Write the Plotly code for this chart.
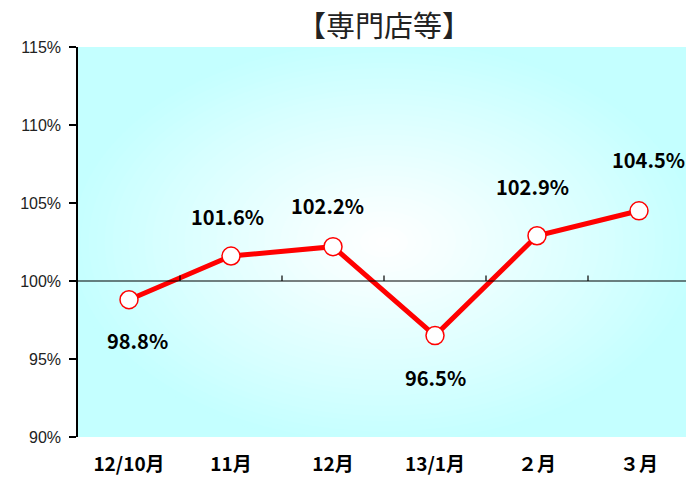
import plotly.graph_objects as go

categories = ["12/10月", "11月", "12月", "13/1月", "２月", "３月"]
values = [98.8, 101.6, 102.2, 96.5, 102.9, 104.5]
value_labels = ["98.8%", "101.6%", "102.2%", "96.5%", "102.9%", "104.5%"]
y_ticks = [90, 95, 100, 105, 110, 115]
y_tick_labels = ["90%", "95%", "100%", "105%", "110%", "115%"]

# label offsets (pixels) relative to points
label_dx = [8, -4, -6, 0, -5, 9]
label_dy = [-41, 40, 41, -42, 49, 51]

W, H = 686, 479
L, R, T, B = 78, 0, 47, 42
px_per_cat = 102
plot_w = W - L - R
xr = [-0.5, -0.5 + plot_w / px_per_cat]
yr = [90, 115]

fig = go.Figure()

# radial-ish background gradient via concentric ellipses
edge = (196, 255, 255)
center = (255, 255, 255)
cx = (xr[0] + xr[1]) / 2 + 0.02
cy = 102.5
ax_half = (xr[1] - xr[0]) / 2
ay_half = (yr[1] - yr[0]) / 2
shapes = []
n = 40
for i in range(n):
    f = 1 - i / n
    c = tuple(round(center[k] + (edge[k] - center[k]) * (f ** 1.1)) for k in range(3))
    shapes.append(dict(type="circle", xref="x", yref="y", layer="below",
                       x0=cx - ax_half * f * 1.05, x1=cx + ax_half * f * 1.05,
                       y0=cy - ay_half * f * 1.05, y1=cy + ay_half * f * 1.05,
                       fillcolor="rgb(%d,%d,%d)" % c, line=dict(width=0)))

# 100% baseline
shapes.append(dict(type="line", xref="paper", yref="y", x0=0, x1=1, y0=100, y1=100,
                   line=dict(color="black", width=1.2)))
for i in range(len(categories) - 1):
    shapes.append(dict(type="line", xref="x", yref="y", x0=i + 0.5, x1=i + 0.5,
                       y0=100, y1=100.35, line=dict(color="black", width=1.2)))

fig.add_trace(go.Scatter(
    x=categories, y=values, mode="lines+markers",
    line=dict(color="#FF0000", width=5),
    marker=dict(size=18, color="white", line=dict(color="#FF0000", width=1.5)),
    cliponaxis=False, hoverinfo="skip", showlegend=False,
))

annotations = []
for i, (c, v, lab) in enumerate(zip(categories, values, value_labels)):
    annotations.append(dict(x=c, y=v, text=lab, showarrow=False,
                            xshift=label_dx[i], yshift=label_dy[i],
                            font=dict(family="Noto Sans CJK JP", size=20, color="black", weight="bold")))

fig.update_layout(
    width=W, height=H,
    margin=dict(l=L, r=R, t=T, b=B, autoexpand=False),
    paper_bgcolor="white",
    plot_bgcolor="rgb(196,255,255)",
    shapes=shapes,
    annotations=annotations,
    title=dict(text="【専門店等】", x=384 / W, xanchor="center",
               y=1 - 27 / H, yanchor="middle", xref="container", yref="container",
               font=dict(family="Noto Sans CJK JP", size=29, color="#222")),
    xaxis=dict(type="category", categoryorder="array", categoryarray=categories,
               range=xr, showgrid=False, zeroline=False, showline=False,
               ticks="", ticklabelstandoff=14, automargin=False,
               tickfont=dict(family="Noto Sans CJK JP", size=19, color="black", weight="bold")),
    yaxis=dict(range=yr, tickvals=y_ticks, ticktext=y_tick_labels, automargin=False,
               showgrid=False, zeroline=False, showline=True, linecolor="black", linewidth=1.5,
               ticks="outside", ticklen=7, tickcolor="black", tickwidth=1.5,
               ticklabelstandoff=5,
               tickfont=dict(family="Liberation Sans", size=16, color="#222")),
)

fig.write_html("out.html", config={"displayModeBar": False},
               post_script="document.body.style.margin='0';document.body.style.overflow='hidden';")
